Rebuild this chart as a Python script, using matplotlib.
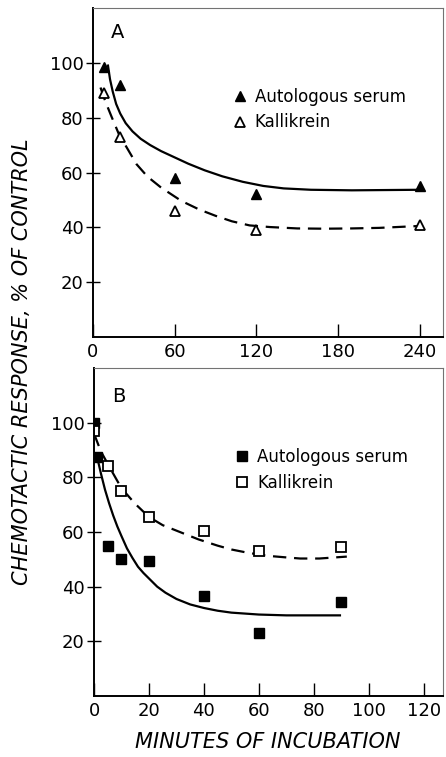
import numpy as np
import matplotlib
matplotlib.use("Agg")
import matplotlib.pyplot as plt

# Panel A: minutes of incubation (0-240)
a_serum_x = [8, 20, 60, 120, 240]
a_serum_y = [98.5, 92, 58, 52, 55]
a_kal_x = [8, 20, 60, 120, 240]
a_kal_y = [89, 73, 46, 39, 40.7]

a_serum_fit_x = [11, 12.5, 14.5, 17, 20, 24, 29, 35, 42, 50, 60, 70, 82, 95, 110, 125, 140, 160, 190, 240]
a_serum_fit_y = [99, 94, 89.5, 85, 81.5, 78, 75, 72.3, 70, 67.8, 65.5, 63.2, 60.8, 58.6, 56.6, 55.1, 54.2, 53.7, 53.5, 53.7]
a_kal_fit_x = [5.5, 9, 13.5, 19, 25.5, 32, 40, 50, 65, 78, 90, 102, 115, 130, 150, 170, 190, 210, 240]
a_kal_fit_y = [91, 86, 80.5, 74, 68.5, 63, 58.5, 54.5, 49.6, 46.5, 44.2, 42.2, 40.7, 40.1, 39.6, 39.5, 39.6, 39.8, 40.5]

# Panel B: minutes of incubation (0-120)
b_serum_x = [0, 1, 5, 10, 20, 40, 60, 90]
b_serum_y = [100, 87.5, 55, 50, 49.5, 36.5, 23, 34.3]
b_kal_x = [0, 5, 10, 20, 40, 60, 90]
b_kal_y = [97, 84, 75, 65.5, 60.5, 53.2, 54.6]

b_serum_fit_x = [1, 2.5, 4, 5.5, 7, 8.5, 10, 12, 14, 16, 18, 20, 23, 26, 30, 35, 40, 45, 50, 60, 70, 89.5]
b_serum_fit_y = [88, 81.5, 75.5, 70.5, 66, 62, 58.5, 54, 50.5, 47.3, 45, 43, 40, 37.8, 35.5, 33.5, 32.2, 31.2, 30.5, 29.8, 29.5, 29.5]
b_kal_fit_x = [0, 2.5, 5.5, 10, 15, 20, 25, 30, 38, 45, 50, 56, 63, 70, 75, 82, 92]
b_kal_fit_y = [96, 89.5, 84, 76, 70.3, 65.5, 62.5, 60.5, 57.3, 55, 53.6, 52.4, 51.3, 50.7, 50.3, 50.3, 51]

a_xticks = [0, 60, 120, 180, 240]
b_xticks = [0, 20, 40, 60, 80, 100, 120]
yticks = [20, 40, 60, 80, 100]

W, H = 446, 757
fig = plt.figure(figsize=(W / 100, H / 100), dpi=100)


def frac(x0, y0, x1, y1):
    return [x0 / W, 1 - y1 / H, (x1 - x0) / W, (y1 - y0) / H]


axA = fig.add_axes(frac(93, 8, 443, 337))
axB = fig.add_axes(frac(94, 368, 443, 696))

LW = 1.6
DASH = (6, 3.5)


def style_axis(ax, xmax, xticks, label):
    ax.set_xlim(0, xmax)
    ax.set_ylim(0, 120)
    ax.set_xticks(xticks)
    ax.set_yticks(yticks)
    ax.tick_params(axis="x", direction="in", length=9.5, width=1.0, pad=4,
                   labelsize=13)
    ax.tick_params(axis="y", direction="inout", length=9.5, width=1.0, pad=2,
                   labelsize=13)
    for s in ("left", "bottom"):
        ax.spines[s].set_linewidth(1.4)
    for s in ("top", "right"):
        ax.spines[s].set_linewidth(0.8)
        ax.spines[s].set_color("0.45")
    ax.text(0.07, 0.925 if label == "A" else 0.912, label, transform=ax.transAxes,
            fontsize=14, ha="center", va="center")


# Panel A
axA.plot(a_serum_fit_x, a_serum_fit_y, color="black", lw=LW)
axA.plot(a_kal_fit_x, a_kal_fit_y, color="black", lw=LW, dashes=DASH)
hA1, = axA.plot(a_serum_x, a_serum_y, ls="none", marker="^", ms=7.5,
                mfc="black", mec="black", label="Autologous serum")
hA2, = axA.plot(a_kal_x, a_kal_y, ls="none", marker="^", ms=7,
                mfc="white", mec="black", mew=1.3, label="Kallikrein")
style_axis(axA, 257, a_xticks, "A")
axA.legend(handles=[hA1, hA2], loc="upper left", bbox_to_anchor=(0.40, 0.757),
           frameon=False, fontsize=12, handlelength=0.8, handletextpad=0.5,
           borderpad=0, borderaxespad=0, labelspacing=0.45)

# Panel B
axB.plot(b_serum_fit_x, b_serum_fit_y, color="black", lw=LW)
axB.plot(b_kal_fit_x, b_kal_fit_y, color="black", lw=LW, dashes=DASH)
hB1, = axB.plot(b_serum_x, b_serum_y, ls="none", marker="s", ms=7.5,
                mfc="black", mec="black", label="Autologous serum")
hB2, = axB.plot(b_kal_x, b_kal_y, ls="none", marker="s", ms=7,
                mfc="white", mec="black", mew=1.3, label="Kallikrein")
style_axis(axB, 127, b_xticks, "B")
axB.legend(handles=[hB1, hB2], loc="upper left", bbox_to_anchor=(0.405, 0.756),
           frameon=False, fontsize=12, handlelength=0.8, handletextpad=0.5,
           borderpad=0, borderaxespad=0, labelspacing=0.45)

fig.text(22 / W, 1 - 362 / H, "CHEMOTACTIC RESPONSE, % OF CONTROL",
         rotation=90, style="italic", fontsize=15, ha="center", va="center")
fig.text(268 / W, 1 - 742 / H, "MINUTES OF INCUBATION",
         style="italic", fontsize=15, ha="center", va="center")

fig.savefig("out.png", dpi=100)
plt.close(fig)
